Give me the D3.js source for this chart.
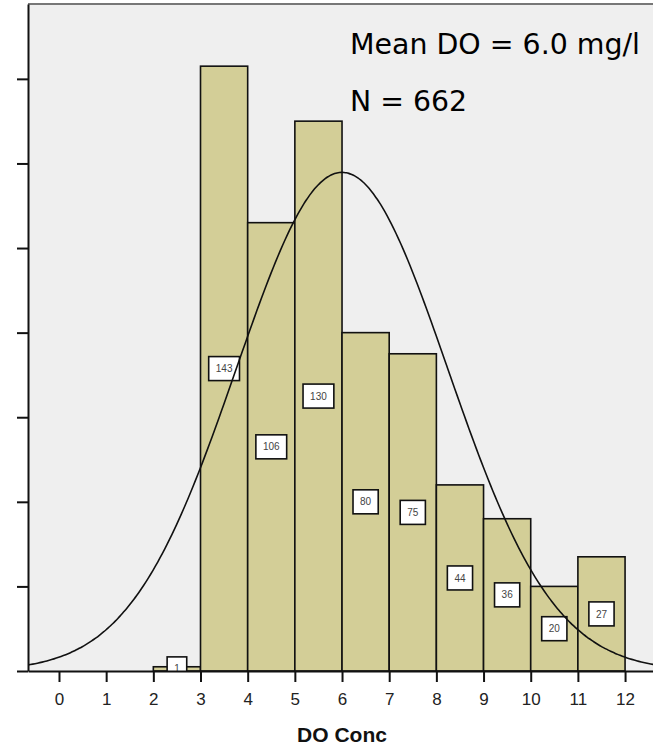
<!DOCTYPE html>
<html><head><meta charset="utf-8">
<script src="https://cdn.jsdelivr.net/npm/d3@7"></script>
<style>body{margin:0;background:#fff}svg{display:block}</style>
</head><body>
<script>
// ---- data ----
const binStarts = [2, 3, 4, 5, 6, 7, 8, 9, 10, 11];
const binWidth = 1;
const counts = [1, 143, 106, 130, 80, 75, 44, 36, 20, 27];
const xTicks = [0, 1, 2, 3, 4, 5, 6, 7, 8, 9, 10, 11, 12];
const yTicks = [0, 20, 40, 60, 80, 100, 120, 140];
const meanDO = 6.0;
const sdDO = 2.24;
const totalN = 662;
const annotations = ["Mean DO = 6.0 mg/l", "N = 662"];
const xTitle = "DO Conc";

// ---- layout ----
const W = 653, H = 746;
const L = 28, T = 4, B = 671, R = 662;
const svg = d3.select("body").append("svg").attr("width", W).attr("height", H);

const x = d3.scaleLinear().domain([-0.657, 12.783]).range([L, R]);
const y = d3.scaleLinear().domain([0, 157.7]).range([B, T]);

svg.append("defs").append("clipPath").attr("id", "plotclip")
  .append("rect").attr("x", L).attr("y", T).attr("width", R - L).attr("height", B - T);

svg.append("rect").attr("x", L).attr("y", T).attr("width", R - L).attr("height", B - T)
  .attr("fill", "#efefef");

const g = svg.append("g").attr("clip-path", "url(#plotclip)");

const bins = binStarts.map((s, i) => ({x0: s, x1: s + binWidth, n: counts[i]}));

// bars
g.selectAll("rect.bar").data(bins).join("rect").attr("class", "bar")
  .attr("x", d => x(d.x0)).attr("width", d => x(d.x1) - x(d.x0))
  .attr("y", d => y(d.n)).attr("height", d => y(0) - y(d.n))
  .attr("fill", "#d3ce97").attr("stroke", "#111").attr("stroke-width", 1.6);

// label boxes
const lab = g.selectAll("g.lab").data(bins).join("g").attr("class", "lab")
  .attr("transform", d => `translate(${x((d.x0 + d.x1) / 2)},${y(d.n / 2)})`);
lab.append("rect")
  .attr("x", d => -(String(d.n).length * 5.6 + 14) / 2)
  .attr("width", d => String(d.n).length * 5.6 + 14)
  .attr("y", -12).attr("height", 24)
  .attr("fill", "#fff").attr("stroke", "#111").attr("stroke-width", 1.6);
lab.append("text").text(d => d.n)
  .attr("text-anchor", "middle").attr("dy", "0.36em")
  .attr("font-family", "Liberation Sans, Arial, sans-serif").attr("font-size", 10)
  .attr("fill", "#444");

// normal curve
const pts = d3.range(-0.657, 12.8, 0.05).map(v => [v,
  totalN * binWidth / (sdDO * Math.sqrt(2 * Math.PI)) * Math.exp(-0.5 * ((v - meanDO) / sdDO) ** 2)]);
g.append("path").datum(pts)
  .attr("d", d3.line().x(d => x(d[0])).y(d => y(d[1])).curve(d3.curveBasis))
  .attr("fill", "none").attr("stroke", "#111").attr("stroke-width", 1.6);

// top frame
svg.append("line").attr("x1", L).attr("x2", R).attr("y1", T).attr("y2", T)
  .attr("stroke", "#777").attr("stroke-width", 2);

// axes
const xa = svg.append("g").attr("transform", `translate(0,${B})`)
  .call(d3.axisBottom(x).tickValues(xTicks).tickSize(11).tickSizeOuter(0).tickPadding(11));
const ya = svg.append("g").attr("transform", `translate(${L},0)`)
  .call(d3.axisLeft(y).tickValues(yTicks).tickSize(11).tickSizeOuter(0).tickFormat(() => ""));
[xa, ya].forEach(a => {
  a.select(".domain").attr("stroke", "#111").attr("stroke-width", 2);
  a.selectAll(".tick line").attr("stroke", "#111").attr("stroke-width", 2);
});
xa.selectAll(".tick text").attr("font-family", "Liberation Sans, Arial, sans-serif")
  .attr("font-size", 17).attr("fill", "#222");

// axis title
svg.append("text").text(xTitle).attr("x", 342).attr("y", 742)
  .attr("text-anchor", "middle").attr("font-family", "Liberation Sans, Arial, sans-serif")
  .attr("font-weight", "bold").attr("font-size", 21).attr("fill", "#111");

// annotations
svg.append("text").text(annotations[0]).attr("x", 350).attr("y", 54)
  .attr("font-family", "DejaVu Sans, sans-serif").attr("font-size", 28.5)
  .attr("textLength", 290).attr("lengthAdjust", "spacingAndGlyphs").attr("fill", "#000");
svg.append("text").text(annotations[1]).attr("x", 350).attr("y", 111)
  .attr("font-family", "DejaVu Sans, sans-serif").attr("font-size", 28.5)
  .attr("textLength", 117).attr("lengthAdjust", "spacingAndGlyphs").attr("fill", "#000");
</script>
</body></html>
